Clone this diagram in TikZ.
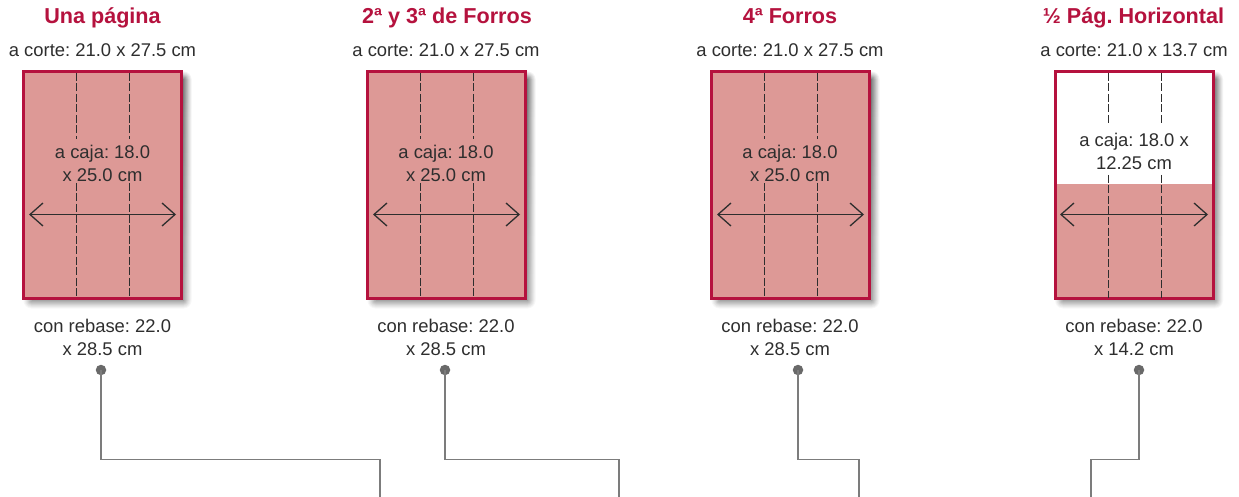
\documentclass[tikz,border=0pt]{standalone}
\usepackage{fontspec}
\setmainfont{Liberation Sans}
\frenchspacing
\usetikzlibrary{arrows.meta}
\definecolor{crim}{HTML}{B5123E}
\definecolor{pinkfill}{HTML}{DD9996}
\definecolor{ink}{HTML}{2E2E2E}
\definecolor{wire}{HTML}{7C7C7C}
\definecolor{shade}{HTML}{4A5566}
\tikzset{
  x=1pt,y=-1pt,
  titlelbl/.style={text=crim,font=\fontsize{21.6}{24}\selectfont\bfseries,anchor=base,inner sep=0pt},
  bodylbl/.style={text=ink,font=\fontsize{18.4}{23}\selectfont,align=center,anchor=center,inner sep=0pt},
  cutlbl/.style={text=ink,font=\fontsize{18.4}{23}\selectfont,anchor=base,inner sep=0pt},
  pagebox/.style={draw=crim,line width=3pt,minimum width=158pt,minimum height=227pt,inner sep=0pt,outer sep=0pt,anchor=north west},
  foldline/.style={draw=ink,line width=1.4pt,dash pattern=on 8pt off 2.5pt},
  measure/.style={draw=ink,line width=1.3pt,{Straight Barb[length=13pt,width=23pt,line width=1.3pt]}-{Straight Barb[length=13pt,width=23pt,line width=1.3pt]}},
  wireline/.style={draw=wire,line width=1.5pt},
  pin/.style={circle,fill=wire!85!black,minimum size=10.5pt,inner sep=0pt},
}
\newcommand{\softshadow}[4]{%
  \foreach \d/\o in {8/0.03,7/0.035,6/0.04,5/0.05,4/0.06,3/0.07,2/0.08,1/0.09,0/0.10}{
    \fill[shade,opacity=\o,rounded corners=\d pt] (#1+8-\d,#2+8-\d) rectangle (#3+2+\d,#4+2+\d);
  }
}
\begin{document}
\begin{tikzpicture}
\useasboundingbox (0,0) rectangle (1239,497);
\fill[white] (0,0) rectangle (1239,497);
% shadows
\softshadow{23.5}{71.5}{181.5}{298.5}
\softshadow{367.5}{71.5}{525.5}{298.5}
\softshadow{711.5}{71.5}{869.5}{298.5}
\softshadow{1055}{71.5}{1213}{298.5}
% pages
\node[pagebox,fill=pinkfill] (p1) at (23.5,71.5) {};
\node[pagebox,fill=pinkfill] (p2) at (367.5,71.5) {};
\node[pagebox,fill=pinkfill] (p3) at (711.5,71.5) {};
\node[pagebox,fill=white] (p4) at (1055,71.5) {};
\fill[pinkfill] (1055,184) rectangle (1213,298.5);
\draw[crim,line width=3pt] (p4.north west) rectangle (p4.south east);
% titles
\node[titlelbl] (t1) at (102.5,24) {Una página};
\node[titlelbl] (t2) at (447,24) {2ª y 3ª de Forros};
\node[titlelbl] (t3) at (790,24) {4ª Forros};
\node[titlelbl] (t4) at (1133.5,24) {½ Pág. Horizontal};
\node[cutlbl] (c1) at (102.5,57) {a corte: 21.0 x 27.5 cm};
\node[cutlbl] (c2) at (446,57) {a corte: 21.0 x 27.5 cm};
\node[cutlbl] (c3) at (790,57) {a corte: 21.0 x 27.5 cm};
\node[cutlbl] (c4) at (1134,57) {a corte: 21.0 x 13.7 cm};
% fold lines
\foreach \xa/\xb in {76.7/129.3,420.7/473.3,764.7/817.3}{
  \draw[foldline] (\xa,73) -- (\xa,139);
  \draw[foldline] (\xa,183) -- (\xa,298);
  \draw[foldline] (\xb,73) -- (\xb,139);
  \draw[foldline] (\xb,183) -- (\xb,298);
}
\foreach \xa in {1108.7,1161.3}{
  \draw[foldline] (\xa,73) -- (\xa,125);
  \draw[foldline] (\xa,175) -- (\xa,298);
}
% caja labels
\node[bodylbl] (k1) at (102.5,163.5) {a caja: 18.0\\x 25.0 cm};
\node[bodylbl] (k2) at (446,163.5) {a caja: 18.0\\x 25.0 cm};
\node[bodylbl] (k3) at (790,163.5) {a caja: 18.0\\x 25.0 cm};
\node[bodylbl] (k4) at (1134,151) {a caja: 18.0 x\\12.25 cm};
% measure arrows
\coordinate (m1a) at (29,214.5); \coordinate (m1b) at (176,214.5);
\coordinate (m2a) at (373,214.5); \coordinate (m2b) at (520,214.5);
\coordinate (m3a) at (717,214.5); \coordinate (m3b) at (864,214.5);
\coordinate (m4a) at (1060,214.5); \coordinate (m4b) at (1208,214.5);
\draw[measure] (m1a) -- (m1b);
\draw[measure] (m2a) -- (m2b);
\draw[measure] (m3a) -- (m3b);
\draw[measure] (m4a) -- (m4b);
% rebase
\node[bodylbl] (r1) at (102.5,337.5) {con rebase: 22.0\\x 28.5 cm};
\node[bodylbl] (r2) at (446,337.5) {con rebase: 22.0\\x 28.5 cm};
\node[bodylbl] (r3) at (790,337.5) {con rebase: 22.0\\x 28.5 cm};
\node[bodylbl] (r4) at (1134,337.5) {con rebase: 22.0\\x 14.2 cm};
% connectors
\node[pin] (d1) at (101,370) {};
\node[pin] (d2) at (445,370) {};
\node[pin] (d3) at (798,370) {};
\node[pin] (d4) at (1139,370) {};
\coordinate (e1) at (380,497); \coordinate (e2) at (619,497);
\coordinate (e3) at (859,497); \coordinate (e4) at (1091,497);
\draw[wireline] (d1.center) -- (101,459.5) -- (380,459.5) -- (e1);
\draw[wireline] (d2.center) -- (445,459.5) -- (619,459.5) -- (e2);
\draw[wireline] (d3.center) -- (798,459.5) -- (859,459.5) -- (e3);
\draw[wireline] (d4.center) -- (1139,459.5) -- (1091,459.5) -- (e4);
\end{tikzpicture}
\end{document}
